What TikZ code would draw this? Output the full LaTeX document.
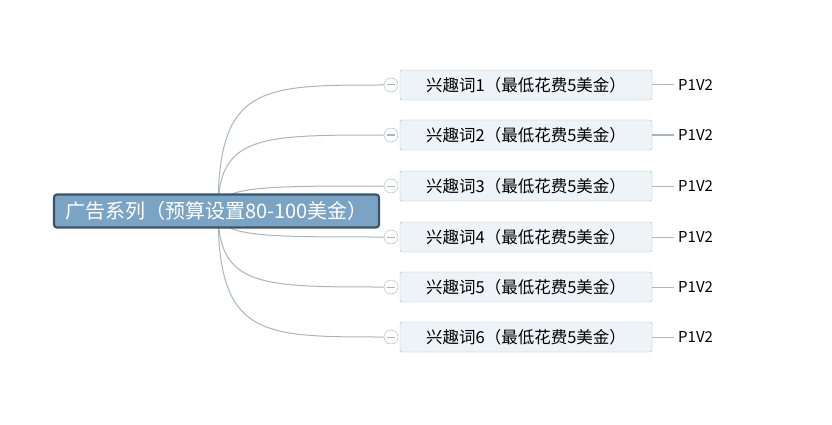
\documentclass[tikz,border=0pt]{standalone}
\usepackage{fontspec}
\setmainfont{Noto Sans CJK SC}
\usetikzlibrary{positioning}
\definecolor{rootfill}{HTML}{7BA3C4}
\definecolor{rootdraw}{HTML}{3B5468}
\definecolor{leaffill}{HTML}{EEF3F7}
\definecolor{linkgray}{HTML}{A8B4BE}
\tikzset{
  rootbox/.style={draw=rootdraw,line width=2.2pt,fill=rootfill,rounded corners=3pt,text=white,font=\fontsize{20}{20}\selectfont,minimum width=325pt,minimum height=33pt,inner sep=0pt},
  leafbox/.style={draw=linkgray,fill=leaffill,rounded corners=2pt,font=\fontsize{16.5}{16.5}\selectfont,minimum width=252pt,minimum height=30pt,inner sep=0pt},
  foldmark/.style={circle,draw=linkgray,fill=white,minimum size=14pt,inner sep=0pt},
  tagtext/.style={font=\fontsize{15}{15}\selectfont,anchor=west,inner sep=0pt},
  link/.style={draw=linkgray,line width=1pt}
}
\begin{document}
\begin{tikzpicture}[x=1pt,y=-1pt]
\useasboundingbox (0,0) rectangle (832,425);
\coordinate (hub) at (218,211);
\foreach \i/\y in {1/85,2/135,3/186,4/237,5/287,6/337}{
  % curve from the root to each fold mark
  \draw[link] (hub) .. controls (218,\y) and (260,\y) .. (384,\y);
  \node[leafbox] (leaf\i) at (526,\y) {兴趣词\i（最低花费5美金）};
  \node[foldmark] (fold\i) at (391,\y) {};
  \draw[link] ([xshift=3pt]fold\i.west) -- ([xshift=-3pt]fold\i.east);
  \node[tagtext] (tag\i) at (678,\y) {P1V2};
  \draw[link] (leaf\i.east) -- ([xshift=-4pt]tag\i.west);
}
\node[rootbox] (root) at (216.5,211) {广告系列（预算设置80-100美金）};
\end{tikzpicture}
\end{document}
